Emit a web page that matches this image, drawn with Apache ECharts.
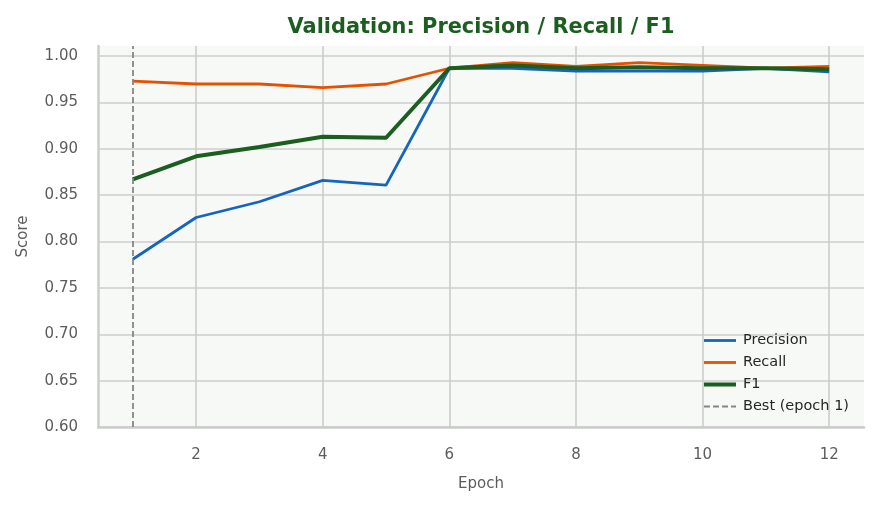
<!DOCTYPE html>
<html>
<head>
<meta charset="utf-8">
<script src="https://cdn.jsdelivr.net/npm/echarts@6/dist/echarts.min.js"></script>
<style>
  html, body { margin: 0; padding: 0; background: #fff; }
  #chart { width: 878px; height: 506px; }
</style>
</head>
<body>
<div id="chart"></div>
<script>
// values
var epochs = [1, 2, 3, 4, 5, 6, 7, 8, 9, 10, 11, 12];
var precision = [0.781, 0.826, 0.843, 0.866, 0.861, 0.987, 0.987, 0.984, 0.984, 0.984, 0.987, 0.983];
var recall = [0.973, 0.970, 0.970, 0.966, 0.970, 0.987, 0.993, 0.989, 0.993, 0.990, 0.987, 0.989];
var f1 = [0.867, 0.892, 0.902, 0.913, 0.912, 0.987, 0.990, 0.987, 0.988, 0.987, 0.987, 0.986];
var bestEpoch = 1;
var xTicks = [2, 4, 6, 8, 10, 12];
var yTicks = [0.60, 0.65, 0.70, 0.75, 0.80, 0.85, 0.90, 0.95, 1.00];

function pairs(vals) {
    return epochs.map(function (e, i) { return [e, vals[i]]; });
}

var font = 'DejaVu Sans';
var myChart = echarts.init(document.getElementById('chart'));
myChart.setOption({
    animation: false,
    textStyle: { fontFamily: font },
    title: {
        text: 'Validation: Precision / Recall / F1',
        left: 476,
        textAlign: 'center',
        top: 12,
        textStyle: { fontFamily: font, fontSize: 20.9, fontWeight: 'bold', color: '#1b5e20' }
    },
    grid: {
        left: 98, right: 14, top: 46, bottom: 79,
        show: true, backgroundColor: '#f7f9f7', borderWidth: 0
    },
    legend: {
        orient: 'vertical',
        left: 702,
        top: 333,
        padding: 0,
        itemWidth: 32,
        itemHeight: 14,
        itemGap: 7,
        itemStyle: { opacity: 0 },
        textStyle: { fontFamily: font, fontSize: 14.5, color: '#262626', padding: [0, 0, 0, 2] },
        data: [
            { name: 'Precision', lineStyle: { width: 2.8 } },
            { name: 'Recall', lineStyle: { width: 2.8 } },
            { name: 'F1', lineStyle: { width: 4 } },
            { name: 'Best (epoch 1)', lineStyle: { width: 1.8 } }
        ]
    },
    xAxis: {
        type: 'value',
        min: 0.45,
        max: 12.55,
        name: 'Epoch',
        nameLocation: 'middle',
        nameGap: 50,
        nameTextStyle: { fontFamily: font, fontSize: 15, color: '#5c5c5c' },
        axisLine: { show: true, lineStyle: { color: '#cccccc', width: 2.5 } },
        axisTick: { show: false, customValues: xTicks },
        axisLabel: { customValues: xTicks, margin: 21, fontSize: 15, color: '#5c5c5c', fontFamily: font },
        splitLine: { show: true, lineStyle: { color: '#cccccc', width: 1.6 } }
    },
    yAxis: {
        type: 'value',
        min: 0.6,
        max: 1.011,
        name: 'Score',
        nameLocation: 'middle',
        nameGap: 67,
        nameTextStyle: { fontFamily: font, fontSize: 15, color: '#5c5c5c' },
        axisLine: { show: true, lineStyle: { color: '#cccccc', width: 2.5 } },
        axisTick: { show: false, customValues: yTicks },
        axisLabel: {
            customValues: yTicks, margin: 20, fontSize: 15, color: '#5c5c5c', fontFamily: font,
            formatter: function (v) { return v.toFixed(2); }
        },
        splitLine: { show: true, lineStyle: { color: '#cccccc', width: 1.6 } }
    },
    series: [
        {
            name: 'Precision', type: 'line', data: pairs(precision),
            showSymbol: false, symbol: 'none', color: '#1565c0',
            lineStyle: { width: 2.8, color: '#1565c0' }, z: 3
        },
        {
            name: 'Recall', type: 'line', data: pairs(recall),
            showSymbol: false, symbol: 'none', color: '#e65100',
            lineStyle: { width: 2.8, color: '#e65100' }, z: 3
        },
        {
            name: 'F1', type: 'line', data: pairs(f1),
            showSymbol: false, symbol: 'none', color: '#1b5e20',
            lineStyle: { width: 4, color: '#1b5e20' }, z: 4
        },
        {
            name: 'Best (epoch 1)', type: 'line', data: [],
            showSymbol: false, symbol: 'none', color: '#858585',
            lineStyle: { width: 1.8, color: '#858585', type: [6, 3] },
            markLine: {
                silent: true,
                symbol: 'none',
                label: { show: false },
                lineStyle: { color: '#858585', width: 1.8, type: [6, 3] },
                data: [{ xAxis: bestEpoch }]
            },
            z: 5
        }
    ]
});
</script>
</body>
</html>
